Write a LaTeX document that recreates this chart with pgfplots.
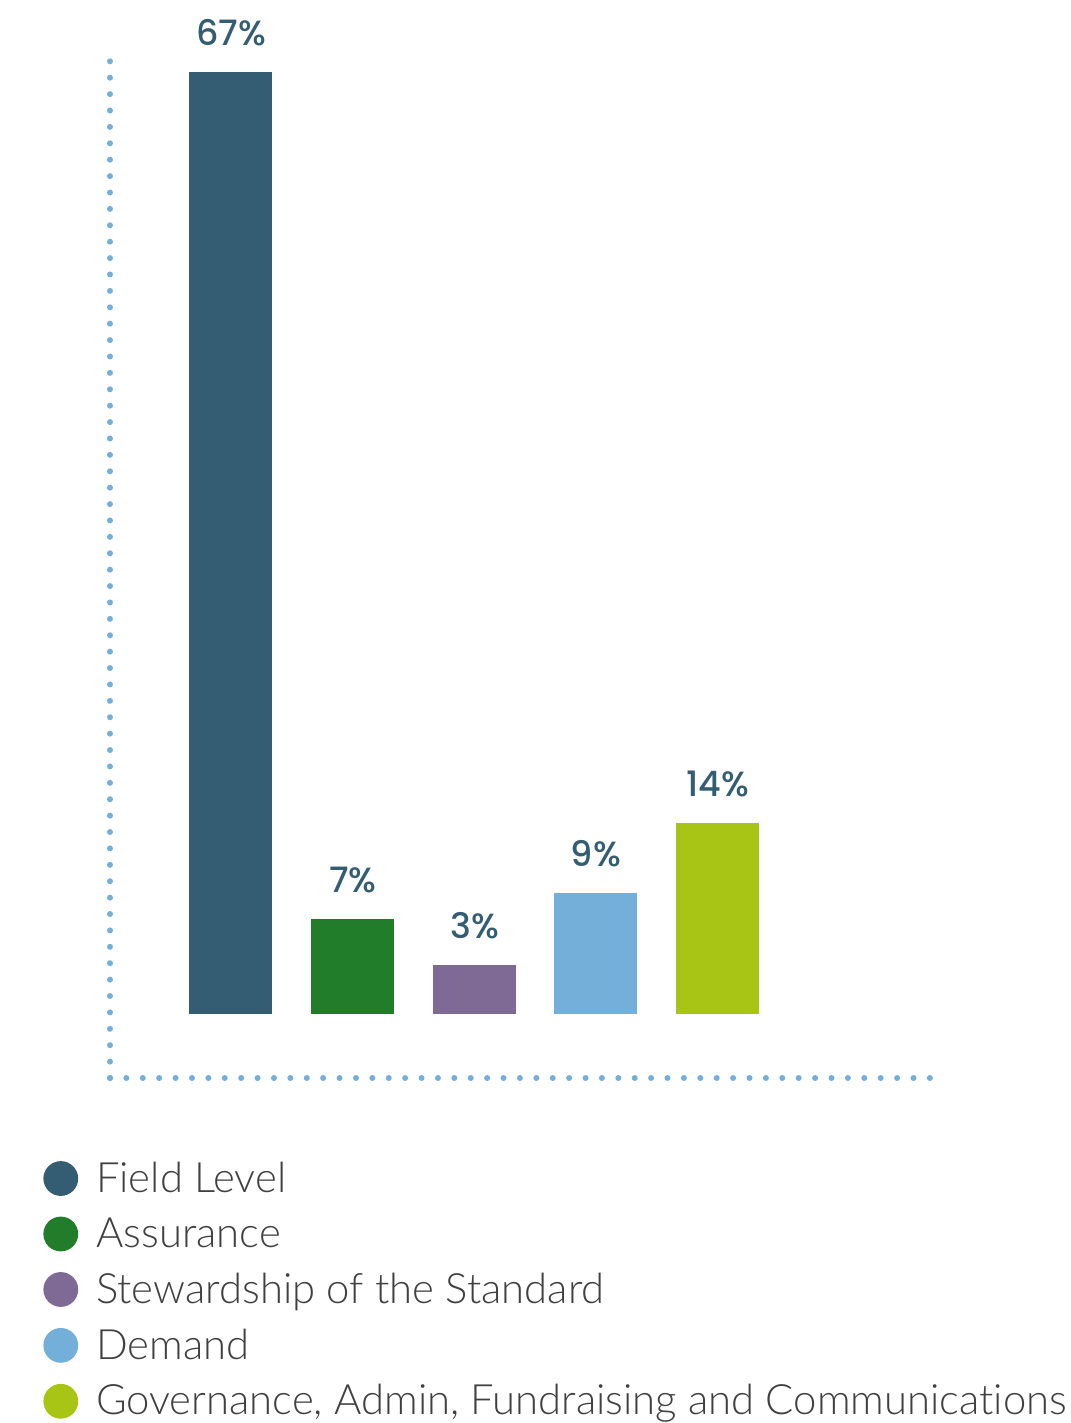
\documentclass[border=0pt]{standalone}
\usepackage{pgfplots}
\pgfplotsset{compat=1.18}
\usepackage{fontspec}
\setmainfont{Lato}[UprightFont={* Light}, Ligatures={NoCommon}]
\newfontfamily\labelfont{Poppins}[UprightFont={* Medium}]
\definecolor{cField}{HTML}{345D73}
\definecolor{cAssur}{HTML}{227D2A}
\definecolor{cStew}{HTML}{7F6A96}
\definecolor{cDem}{HTML}{74AFDA}
\definecolor{cGov}{HTML}{A8C515}
\definecolor{cAxis}{HTML}{74AFDA}
\definecolor{cText}{HTML}{404040}
\begin{document}
\begin{tikzpicture}
\begin{axis}[
  scale only axis,
  width=412.5pt, height=511.5pt,
  xmin=110, xmax=935,
  ymin=-4.552, ymax=68.2,
  axis x line=bottom, axis y line=left,
  axis line style={draw=cAxis, line width=3pt, line cap=round, dash pattern=on 0pt off 8.2pt, -},
  xtick=\empty, ytick=\empty,
  clip=false,
  ybar, bar shift=0pt, bar width=41.5pt,
  nodes near coords,
  point meta=explicit symbolic,
  every node near coord/.append style={font=\labelfont\fontsize{17.5}{21}\selectfont, text=cField, anchor=south, yshift=9.5pt},
  legend style={draw=none, fill=none, at={(axis cs:43,-10.2)}, anchor=north west,
    font=\fontsize{20.9}{25}\selectfont, text=cText, row sep=7.25pt, inner sep=0pt,
    /tikz/every odd column/.append style={column sep=7pt}},
  legend cell align=left,
  legend image code/.code={\fill[#1] (8.5pt,0pt) circle (8.7pt);},
]
\addplot[fill=cField, draw=none] coordinates {(231,67) [67\%]};
\addplot[fill=cAssur, draw=none] coordinates {(353,6.76) [7\%]};
\addplot[fill=cStew, draw=none] coordinates {(475,3.49) [3\%]};
\addplot[fill=cDem, draw=none] coordinates {(596,8.6) [9\%]};
\addplot[fill=cGov, draw=none] coordinates {(718,13.6) [14\%]};
\legend{Field Level, Assurance, Stewardship of the Standard, Demand, {Governance, Admin, Fundraising and Communications}}
\path (axis cs:0,72.12) rectangle (axis cs:1070,-29.09);
\end{axis}
\end{tikzpicture}
\end{document}
